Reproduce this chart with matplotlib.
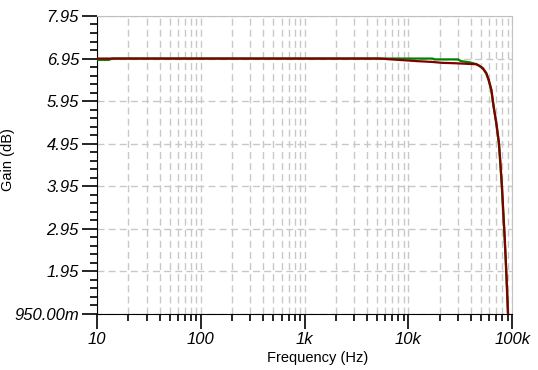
import matplotlib.pyplot as plt
from matplotlib.ticker import FixedLocator, LogLocator, NullFormatter

# Courbe rouge (sortie) et verte
freq_rouge = [10, 100, 1000, 5300, 6900, 12000, 17000, 21000, 28000, 45100, 48500,
              52200, 56300, 59300, 63000, 66200, 70300, 74500, 77300, 79600,
              82100, 84500, 86900, 88900, 91000, 93000]
gain_rouge = [6.95, 6.95, 6.95, 6.95, 6.93, 6.89, 6.87, 6.85, 6.84, 6.816, 6.776,
              6.72, 6.605, 6.45, 6.21, 5.82, 5.43, 4.96, 4.41, 3.94,
              3.32, 2.77, 2.14, 1.59, 0.97, 0.5]

freq_vert = [10, 13, 14, 100, 1000, 10000, 17000, 18000, 30000, 32000, 39000,
             45000, 48300, 52000, 56000, 59000, 62700, 66000, 70000, 74200,
             77000, 79300, 81800, 84200, 86600, 88600, 90700, 93000]
gain_vert = [6.92, 6.92, 6.95, 6.95, 6.95, 6.95, 6.95, 6.93, 6.93, 6.89, 6.86,
             6.82, 6.776, 6.72, 6.605, 6.45, 6.21, 5.82, 5.43, 4.96,
             4.41, 3.94, 3.32, 2.77, 2.14, 1.59, 0.97, 0.5]

y_ticks = [0.95, 1.95, 2.95, 3.95, 4.95, 5.95, 6.95, 7.95]
y_labels = ['950.00m', '1.95', '2.95', '3.95', '4.95', '5.95', '6.95', '7.95']
x_ticks = [10, 100, 1000, 10000, 100000]
x_labels = ['10', '100', '1k', '10k', '100k']

plt.rcParams['font.family'] = ['Liberation Sans', 'DejaVu Sans']

fig = plt.figure(figsize=(5.38, 3.70), dpi=100)
ax = fig.add_axes([0.1803, 0.1514, 0.9522 - 0.1803, 0.9568 - 0.1514])

ax.plot(freq_vert, gain_vert, color='#008000', lw=1.6, zorder=3)
ax.plot(freq_rouge, gain_rouge, color='#800000', lw=1.6, zorder=4)

ax.set_xscale('log')
ax.set_xlim(10, 100000)
ax.set_ylim(0.95, 7.95)

ax.set_xticks(x_ticks)
ax.set_xticklabels(x_labels, fontsize=12, style='italic')
ax.xaxis.set_minor_locator(LogLocator(base=10, subs=range(2, 10), numticks=20))
ax.xaxis.set_minor_formatter(NullFormatter())

ax.set_yticks(y_ticks)
ax.set_yticklabels(y_labels, fontsize=12, style='italic')
ax.yaxis.set_minor_locator(FixedLocator([0.95 + 0.2 * i for i in range(36)]))

ax.tick_params(which='major', direction='out', length=11, width=1.2, pad=2)
ax.tick_params(which='minor', direction='out', length=5, width=1.2)

ax.grid(which='major', color='#c8c8c8', ls=(0, (5, 3)), lw=1)
ax.grid(which='minor', axis='x', color='#c8c8c8', ls=(0, (5, 3)), lw=1)

for s in ['top', 'right']:
    ax.spines[s].set_color('#c0c0c0')
for s in ['left', 'bottom']:
    ax.spines[s].set_color('black')

ax.set_xlabel('Frequency (Hz)', fontsize=10.5)
ax.xaxis.set_label_coords(0.532, -0.125)
ax.set_ylabel('Gain (dB)', fontsize=10.5)
ax.yaxis.set_label_coords(-0.197, 0.517)

fig.savefig('out.png', dpi=100)
